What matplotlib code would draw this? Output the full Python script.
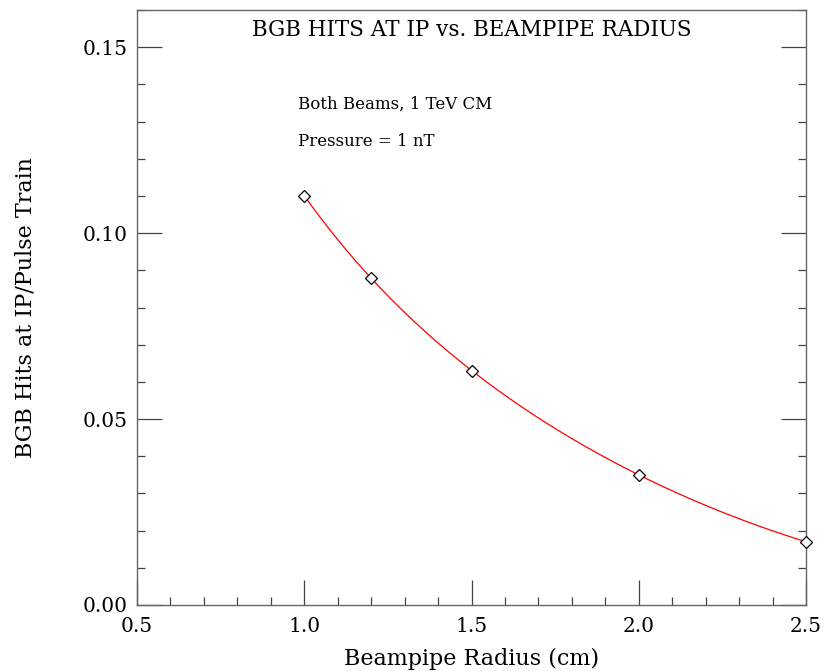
import numpy as np
import matplotlib
matplotlib.use("Agg")
import matplotlib.pyplot as plt
from matplotlib.ticker import MultipleLocator

radius = [1.0, 1.2, 1.5, 2.0, 2.5]
hits = [0.110, 0.088, 0.063, 0.035, 0.017]

title = "BGB HITS AT IP vs. BEAMPIPE RADIUS"
note1 = "Both Beams, 1 TeV CM"
note2 = "Pressure = 1 nT"
xlabel = "Beampipe Radius (cm)"
ylabel = "BGB Hits at IP/Pulse Train"

plt.rcParams['font.family'] = ['DejaVu Serif']

fig = plt.figure(figsize=(8.24, 6.71), dpi=100)
ax = fig.add_axes([137/824, 66/671, (806-137)/824, (605-10)/671])

# smooth fitted curve through the points
coef = np.polyfit(radius, np.log(hits), 3)
xs = np.linspace(min(radius), max(radius), 300)
ax.plot(xs, np.exp(np.polyval(coef, xs)), color='red', lw=0.9, zorder=2)
ax.plot(radius, hits, linestyle='none', marker='D', markersize=6.4,
        markerfacecolor='white', markeredgecolor='black', markeredgewidth=0.9,
        zorder=3, clip_on=False)

ax.set_xlim(0.5, 2.5)
ax.set_ylim(0.0, 0.16)
ax.xaxis.set_major_locator(MultipleLocator(0.5))
ax.xaxis.set_minor_locator(MultipleLocator(0.1))
ax.yaxis.set_major_locator(MultipleLocator(0.05))
ax.yaxis.set_minor_locator(MultipleLocator(0.01))
ax.xaxis.set_major_formatter(matplotlib.ticker.FormatStrFormatter('%.1f'))
ax.yaxis.set_major_formatter(matplotlib.ticker.FormatStrFormatter('%.2f'))

tc = '#444444'
for s in ax.spines.values():
    s.set_color('#666666')
    s.set_linewidth(1.0)
ax.tick_params(which='both', direction='in', top=False, right=True, color=tc, width=0.9,
               labelsize=14.5)
ax.tick_params(which='major', length=18)
ax.tick_params(which='minor', length=5.8)
ax.tick_params(axis='x', which='major', pad=9)
ax.tick_params(axis='y', which='major', pad=7)

ax.text(0.5, 0.967, title, transform=ax.transAxes, ha='center', va='center', fontsize=15.5)
ax.text((298-137)/669, (605-104)/595, note1, transform=ax.transAxes, ha='left', va='center', fontsize=12)
ax.text((298-137)/669, (605-142)/595, note2, transform=ax.transAxes, ha='left', va='center', fontsize=12)

ax.set_xlabel(xlabel, fontsize=16, labelpad=8)
ax.set_ylabel(ylabel, fontsize=16, labelpad=33)

fig.savefig("out.png", dpi=100)
